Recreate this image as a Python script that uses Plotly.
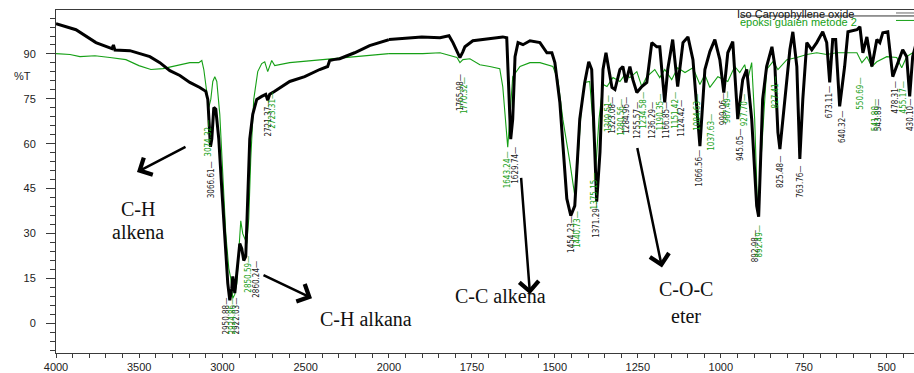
import plotly.graph_objects as go

# ---------------- data ----------------
iso_wn = [4000, 3880, 3760, 3664, 3655, 3646, 3556, 3436, 3376, 3316, 3256, 3196, 3136, 3100, 3088,
          3072, 3064, 3052, 3040, 3022, 3004, 2986, 2968, 2956, 2944, 2938, 2926, 2914, 2896, 2884,
          2872, 2860, 2848, 2836, 2818, 2794, 2764, 2740, 2728, 2716, 2686, 2596, 2506, 2416, 2368,
          2356, 2332, 2296, 2206, 2116, 2000,
          1901, 1846, 1819, 1807, 1795, 1786, 1777, 1771, 1747, 1717, 1687, 1657, 1645, 1639, 1633,
          1627, 1620, 1611, 1596, 1575, 1545, 1524, 1509, 1500, 1485, 1464, 1452, 1440, 1425, 1410,
          1398, 1389, 1380, 1374, 1364, 1355, 1346, 1337, 1328, 1319, 1304, 1295, 1286, 1274, 1265,
          1253, 1238, 1223, 1208, 1193, 1184, 1169, 1160, 1145, 1130, 1114, 1099, 1084, 1063, 1048,
          1033, 1018, 1003, 991, 979, 964, 949, 934, 922, 907, 892, 886, 874, 862, 846, 837, 828, 822,
          807, 792, 783, 771, 762, 753, 741, 726, 711, 693, 681, 672, 663, 654, 642, 627, 617, 590,
          581, 572, 560, 545, 530, 521, 512, 497, 482, 467, 452, 440, 431, 422, 413]
iso_t = [100.1, 98.1, 93.8, 91.8, 93.0, 91.3, 91.1, 89.1, 87.1, 84.4, 82.8, 80.5, 78.8, 77.5, 74.8,
         59.0, 61.5, 72.1, 71.5, 61.5, 44.9, 28.3, 13.3, 7.6, 11.6, 15.6, 10.0, 16.6, 26.6, 24.9,
         20.9, 22.3, 41.6, 61.5, 69.8, 74.8, 75.8, 76.5, 74.5, 76.5, 77.5, 80.8, 82.4, 84.8, 85.8,
         87.8, 88.1, 88.4, 90.4, 92.8, 94.8,
         95.7, 95.4, 96.1, 93.8, 90.8, 88.8, 90.8, 92.4, 94.4, 94.8, 95.4, 95.7, 95.4, 78.1, 61.5,
         68.2, 89.1, 93.8, 93.1, 94.4, 93.8, 90.4, 90.4, 87.1, 73.8, 41.6, 35.9, 39.2, 68.2, 80.5,
         87.4, 84.8, 57.2, 40.6, 57.2, 84.8, 90.4, 83.8, 78.8, 78.1, 84.8, 85.8, 80.5, 85.8, 81.4,
         77.1, 79.1, 80.5, 93.8, 92.4, 92.4, 73.8, 84.8, 94.8, 79.1, 93.8, 95.7, 88.1, 59.2, 84.8,
         90.8, 94.8, 88.1, 77.1, 90.4, 94.1, 68.2, 81.4, 84.8, 68.2, 39.2, 35.6, 74.8, 85.8, 92.4,
         85.8, 63.8, 58.2, 74.8, 91.4, 97.4, 85.8, 54.9, 74.8, 93.8, 91.4, 93.8, 97.4, 93.8, 80.5,
         94.8, 94.8, 72.5, 85.8, 97.4, 98.1, 99.1, 90.4, 95.7, 85.8, 94.8, 93.8, 97.1, 97.4, 82.4,
         87.1, 91.4, 89.1, 75.8, 89.1, 93.0]

epo_wn = [4000, 3916, 3856, 3766, 3676, 3580, 3502, 3430, 3358, 3262, 3196, 3142, 3124, 3112, 3094,
          3082, 3070, 3058, 3046, 3034, 3016, 2998, 2980, 2962, 2950, 2938, 2926, 2914, 2902, 2890,
          2878, 2866, 2854, 2842, 2830, 2812, 2788, 2764, 2746, 2728, 2716, 2704, 2686, 2596, 2398,
          2194, 2000,
          1898, 1846, 1816, 1795, 1786, 1777, 1756, 1726, 1696, 1666, 1657, 1651, 1645, 1642, 1636,
          1627, 1605, 1575, 1545, 1506, 1491, 1476, 1455, 1440, 1431, 1419, 1410, 1395, 1386, 1377,
          1367, 1355, 1343, 1325, 1304, 1289, 1274, 1253, 1238, 1223, 1199, 1184, 1169, 1148, 1130,
          1108, 1084, 1063, 1048, 1033, 1009, 979, 958, 943, 928, 919, 907, 898, 889, 877, 862, 843,
          828, 801, 771, 741, 711, 681, 651, 621, 590, 575, 560, 545, 530, 500, 470, 455, 440, 422, 413]
epo_t = [90.1, 89.8, 89.1, 89.4, 88.8, 88.1, 86.1, 84.8, 85.1, 86.4, 87.1, 87.1, 87.8, 84.8, 76.5,
         72.1, 74.8, 80.8, 82.4, 80.8, 69.8, 49.9, 29.9, 18.3, 15.0, 8.3, 9.6, 13.3, 24.9, 34.2,
         29.9, 28.3, 26.6, 34.9, 54.9, 74.8, 84.1, 86.8, 87.4, 84.1, 86.1, 87.8, 86.1, 87.1, 88.1,
         89.1, 90.1,
         90.1, 90.4, 89.4, 88.8, 87.1, 88.1, 88.4, 86.4, 85.8, 85.1, 79.1, 69.8, 62.5, 58.8, 68.2,
         82.4, 85.8, 87.1, 87.1, 85.8, 81.4, 68.2, 53.9, 42.6, 53.9, 73.8, 80.5, 80.8, 68.2, 51.5,
         68.2, 79.8, 79.1, 82.1, 80.8, 83.1, 82.1, 84.1, 79.1, 82.4, 84.8, 82.1, 84.8, 81.4, 85.4,
         83.8, 85.4, 79.8, 83.1, 78.8, 82.4, 80.8, 85.8, 83.8, 86.4, 81.4, 87.1, 68.2, 36.6, 58.2,
         84.8, 87.4, 84.8, 88.1, 88.8, 89.8, 90.4, 89.8, 90.4, 90.4, 90.4, 87.1, 89.1, 85.8, 87.4,
         89.1, 88.8, 85.4, 89.1, 90.4, 90.4]

series_names = ["Iso Caryophyllene oxide", "epoksi guaien metode 2"]

# peak labels: text, wavenumber position, %T at top of label
iso_label_text = ["3066.61", "2950.88", "2922.03", "2860.24", "2721.37", "1765.98", "1629.74",
                  "1454.23", "1371.29", "1323.08", "1284.96", "1255.57", "1236.29", "1166.85",
                  "1124.42", "1066.56", "999.06", "945.05", "892.98", "825.48", "763.76", "673.11",
                  "640.32", "543.89", "478.31", "430.10"]
iso_label_wn = [3064, 2974, 2914, 2800, 2722, 1786, 1617, 1452, 1374, 1325, 1283, 1250, 1205, 1163,
                1117, 1063, 991, 943, 895, 822, 762, 672, 633, 527, 473, 428]
iso_label_t = [54.9, 9.3, 9.3, 21.6, 75.5, 84.1, 59.5, 36.6, 41.6, 76.5, 76.5, 74.8, 74.8, 74.8,
               75.5, 58.8, 77.5, 65.5, 31.6, 56.5, 53.2, 79.8, 71.5, 75.5, 81.4, 75.5]

epo_label_text = ["3074.32", "2924.86", "2850.59", "2723.31", "1770.32", "1643.24", "1440.73",
                  "1375.15", "1309.51", "1280.56", "1234.58", "1190.35", "1151.42", "1084.63",
                  "1037.63", "987.49", "927.70", "892.49", "827.41", "550.69", "541.80", "455.17"]
epo_label_wn = [3082, 2938, 2842, 2704, 1774, 1642, 1431, 1382, 1340, 1298, 1235, 1181, 1139, 1069,
                1027, 979, 928, 883, 834, 580, 536, 449]
epo_label_t = [68.8, 9.3, 23.3, 78.1, 83.1, 58.2, 38.2, 50.9, 77.1, 75.8, 78.1, 77.5, 78.1, 77.5,
               70.8, 78.1, 77.1, 33.2, 83.1, 82.8, 75.5, 81.4]

x1_ticks = [4000, 3500, 3000, 2500]
x2_ticks = [2000, 1750, 1500, 1250, 1000, 750, 500]
y_ticks = [0, 15, 30, 45, 60, 75, 90]

BLACK = "#000000"
GREEN = "#16a016"
AX = "#3a3a3a"

fig = go.Figure()


def split(wn, t, high):
    pts = [(w, v) for w, v in zip(wn, t) if (w >= 2000 if high else w <= 2000)]
    return [p[0] for p in pts], [p[1] for p in pts]


for wn, t, col, w in [(epo_wn, epo_t, GREEN, 1.1), (iso_wn, iso_t, BLACK, 3.0)]:
    xa, ya = split(wn, t, True)
    fig.add_trace(go.Scatter(x=xa, y=ya, mode="lines", line=dict(color=col, width=w),
                             xaxis="x", yaxis="y", showlegend=False, hoverinfo="skip"))
    xb, yb = split(wn, t, False)
    fig.add_trace(go.Scatter(x=xb, y=yb, mode="lines", line=dict(color=col, width=w),
                             xaxis="x2", yaxis="y", showlegend=False, hoverinfo="skip"))

split_frac = 0.388
annotations = []


def add_peak_labels(texts, wns, ts, color):
    for txt, w, t in zip(texts, wns, ts):
        annotations.append(dict(
            x=w, y=t, xref="x" if w >= 2000 else "x2", yref="y",
            text=txt + "\u2014", textangle=-90, showarrow=False,
            xanchor="center", yanchor="top",
            font=dict(family="DejaVu Sans Condensed, Liberation Sans, Arial", size=8, color=color)))


add_peak_labels(iso_label_text, iso_label_wn, iso_label_t, "#1a1a1a")
add_peak_labels(epo_label_text, epo_label_wn, epo_label_t, GREEN)

W, H, L, T, B = 914, 373, 56, 10, 18
PW, PH = W - L, H - T - B


def px(x):
    return (x - L) / PW


def py(y):
    return (H - B - y) / PH


serif = dict(family="Liberation Serif, Times New Roman, serif", size=20, color="#111")
for txt, cx, cy in [("C-H", 138, 210), ("alkena", 138, 233), ("C-H alkana", 366, 321),
                    ("C-C alkena", 500, 298), ("C-O-C", 686, 291), ("eter", 686, 318)]:
    annotations.append(dict(x=px(cx), y=py(cy), xref="paper", yref="paper", text=txt,
                            showarrow=False, xanchor="center", yanchor="middle", font=serif))

for hx, hy, tx, ty in [(137, 173, 187, 147), (312, 300, 262, 276),
                       (530, 296, 521, 178), (662, 269, 637, 148)]:
    annotations.append(dict(x=px(hx), y=py(hy), xref="paper", yref="paper", text="",
                            showarrow=True, ax=tx - hx, ay=ty - hy, arrowhead=4,
                            arrowsize=1.5, arrowwidth=2.5, arrowcolor="#000"))

# axis title and legend
annotations.append(dict(x=px(22), y=py(76), xref="paper", yref="paper", text="%T",
                        showarrow=False, xanchor="center", yanchor="middle",
                        font=dict(family="Liberation Sans, Arial", size=11, color="#222")))
annotations.append(dict(x=px(735), y=py(14), xref="paper", yref="paper", text=series_names[0],
                        showarrow=False, xanchor="left", yanchor="middle",
                        font=dict(family="Liberation Sans, Arial", size=11, color="#111")))
annotations.append(dict(x=px(738), y=py(22.5), xref="paper", yref="paper", text=series_names[1],
                        showarrow=False, xanchor="left", yanchor="middle",
                        font=dict(family="Liberation Sans, Arial", size=11, color=GREEN)))

shapes = [
    dict(type="line", xref="paper", yref="paper", x0=px(740), x1=1, y0=py(16), y1=py(16),
         line=dict(color="#333", width=1)),
    dict(type="line", xref="paper", yref="paper", x0=px(896), x1=1, y0=py(13), y1=py(13),
         line=dict(color="#666", width=1)),
    dict(type="line", xref="paper", yref="paper", x0=px(896), x1=1, y0=py(20.5), y1=py(20.5),
         line=dict(color=GREEN, width=1)),
]

tickfont = dict(family="Liberation Sans, Arial", size=11, color="#222")
common_x = dict(showgrid=False, zeroline=False, showline=True, linecolor=AX, linewidth=1,
                mirror=True, ticks="outside", ticklen=4, tickcolor=AX, tickfont=tickfont,
                anchor="y", tickmode="array")

fig.update_layout(
    width=W, height=H, margin=dict(l=L, r=0, t=T, b=B),
    paper_bgcolor="white", plot_bgcolor="white", showlegend=False, hovermode=False,
    xaxis=dict(domain=[0, split_frac], range=[4000, 2000], tickvals=x1_ticks,
               ticktext=[str(v) for v in x1_ticks],
               minor=dict(tickmode="array", tickvals=list(range(3900, 2000, -100)),
                          ticks="outside", ticklen=4, tickcolor=AX),
               **common_x),
    xaxis2=dict(domain=[split_frac, 1], range=[2000, 418], tickvals=x2_ticks,
                ticktext=[str(v) for v in x2_ticks],
                minor=dict(tickmode="array", tickvals=list(range(1950, 400, -50)),
                           ticks="outside", ticklen=4, tickcolor=AX),
                **common_x),
    yaxis=dict(range=[-10, 104.7], tickmode="array", tickvals=y_ticks,
               ticktext=[str(v) for v in y_ticks], showgrid=False, zeroline=False,
               showline=True, linecolor=AX, linewidth=1, ticks="outside", ticklen=9,
               tickcolor=AX, tickfont=tickfont, ticklabelstandoff=8,
               minor=dict(dtick=3, ticks="outside", ticklen=5, tickcolor=AX)),
    annotations=annotations, shapes=shapes,
)

fig.write_html("out.html", config={"displayModeBar": False, "staticPlot": True},
               post_script="document.body.style.margin='0';document.body.style.padding='0';"
                           "document.documentElement.style.overflow='hidden';")
